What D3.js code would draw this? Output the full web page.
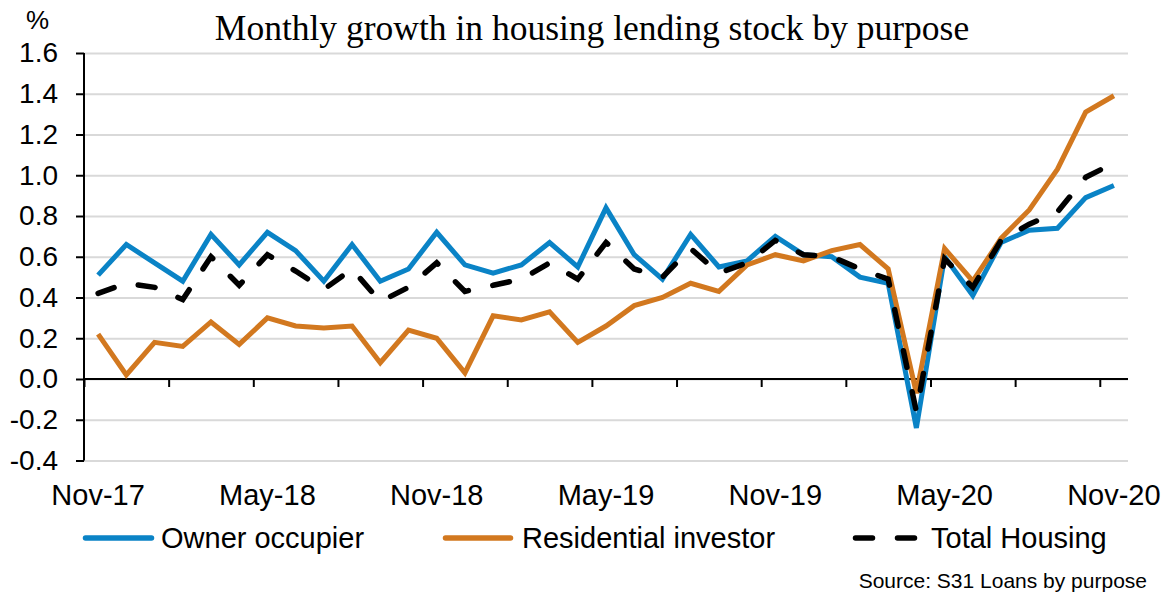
<!DOCTYPE html>
<html>
<head>
<meta charset="utf-8">
<script src="https://cdn.jsdelivr.net/npm/d3@7"></script>
<style>
  body { margin: 0; background: #fff; }
  text { font-family: "Liberation Sans", Arial, sans-serif; fill: #000; }
</style>
</head>
<body>
<div id="chart"></div>
<script>
// Monthly data, Nov-17 to Nov-20
var months = ["Nov-17","Dec-17","Jan-18","Feb-18","Mar-18","Apr-18","May-18","Jun-18","Jul-18","Aug-18","Sep-18","Oct-18",
              "Nov-18","Dec-18","Jan-19","Feb-19","Mar-19","Apr-19","May-19","Jun-19","Jul-19","Aug-19","Sep-19","Oct-19",
              "Nov-19","Dec-19","Jan-20","Feb-20","Mar-20","Apr-20","May-20","Jun-20","Jul-20","Aug-20","Sep-20","Oct-20","Nov-20"];

var ownerOccupier = [0.51, 0.66, 0.57, 0.48, 0.71, 0.56, 0.72, 0.63, 0.48, 0.66, 0.48, 0.54,
                     0.72, 0.56, 0.52, 0.56, 0.67, 0.55, 0.84, 0.61, 0.49, 0.71, 0.55, 0.58,
                     0.70, 0.61, 0.60, 0.50, 0.47, -0.24, 0.60, 0.41, 0.67, 0.73, 0.74, 0.89, 0.95];

var residentialInvestor = [0.22, 0.02, 0.18, 0.16, 0.28, 0.17, 0.30, 0.26, 0.25, 0.26, 0.08, 0.24,
                           0.20, 0.03, 0.31, 0.29, 0.33, 0.18, 0.26, 0.36, 0.40, 0.47, 0.43, 0.56,
                           0.61, 0.58, 0.63, 0.66, 0.54, -0.07, 0.64, 0.48, 0.69, 0.83, 1.03, 1.31, 1.39];

var totalHousing = [0.42, 0.47, 0.45, 0.39, 0.60, 0.46, 0.61, 0.53, 0.44, 0.54, 0.38, 0.45,
                    0.57, 0.43, 0.46, 0.49, 0.57, 0.49, 0.67, 0.54, 0.50, 0.64, 0.52, 0.57,
                    0.68, 0.61, 0.60, 0.54, 0.49, -0.16, 0.59, 0.45, 0.68, 0.76, 0.82, 0.99, 1.06];

var yTicks = [-0.4, -0.2, 0.0, 0.2, 0.4, 0.6, 0.8, 1.0, 1.2, 1.4, 1.6];
var xLabels = ["Nov-17", "May-18", "Nov-18", "May-19", "Nov-19", "May-20", "Nov-20"];

var series = [
  {name: "Owner occupier", values: ownerOccupier, color: "#0a83c6", dash: null},
  {name: "Residential investor", values: residentialInvestor, color: "#d2781f", dash: null},
  {name: "Total Housing", values: totalHousing, color: "#000", dash: "17,25"}
];

var W = 1172, H = 597;
var plotLeft = 84, plotRight = 1128, plotTop = 53, plotBottom = 460.5;

var svg = d3.select("#chart").append("svg")
  .attr("width", W).attr("height", H);

// Scales
var x = d3.scaleBand().domain(months).range([plotLeft, plotRight]).padding(0);
var xi = d3.scaleLinear().domain([0, months.length]).range([plotLeft, plotRight]);
var y = d3.scaleLinear().domain([-0.4, 1.6]).range([plotBottom, plotTop]);

// Gridlines
svg.append("g")
  .attr("transform", "translate(" + plotLeft + ",0)")
  .call(d3.axisLeft(y).tickValues(yTicks).tickSize(-(plotRight - plotLeft)).tickFormat(""))
  .call(function(g) {
    g.select(".domain").remove();
    g.selectAll("line").attr("stroke", "#d9d9d9").attr("stroke-width", 2);
  });

// Y axis
svg.append("g")
  .attr("transform", "translate(" + plotLeft + ",0)")
  .call(d3.axisLeft(y).tickValues(yTicks).tickSize(8).tickPadding(18)
    .tickFormat(function(d) { return d.toFixed(1); }))
  .call(function(g) {
    g.select(".domain").attr("stroke", "#000").attr("stroke-width", 2)
      .attr("d", "M0," + y(-0.4) + "V" + y(1.6));
    g.selectAll("line").attr("stroke", "#000").attr("stroke-width", 2);
    g.selectAll("text").style("font-size", "28px")
      .style("font-family", "'Liberation Sans', Arial, sans-serif").attr("fill", "#000");
  });

// X axis line at zero with ticks every 3 months
svg.append("g")
  .attr("transform", "translate(0," + y(0) + ")")
  .call(d3.axisBottom(xi).tickValues(d3.range(0, months.length, 3)).tickSize(8).tickFormat(""))
  .call(function(g) {
    g.select(".domain").attr("stroke", "#000").attr("stroke-width", 2)
      .attr("d", "M" + plotLeft + ",0H" + plotRight);
    g.selectAll("line").attr("stroke", "#000").attr("stroke-width", 2);
  });

// X labels below plot
svg.append("g")
  .attr("transform", "translate(0," + plotBottom + ")")
  .call(d3.axisBottom(x).tickValues(xLabels).tickSize(0).tickPadding(24))
  .call(function(g) {
    g.select(".domain").remove();
    g.selectAll("text").style("font-size", "29px")
      .style("font-family", "'Liberation Sans', Arial, sans-serif").attr("fill", "#000");
  });

// Lines
var line = d3.line()
  .x(function(d, i) { return x(months[i]) + x.bandwidth() / 2; })
  .y(function(d) { return y(d); });

series.forEach(function(s) {
  svg.append("path")
    .datum(s.values)
    .attr("fill", "none")
    .attr("stroke", s.color)
    .attr("stroke-width", s.dash ? 5.5 : 5)
    .attr("stroke-linejoin", "miter")
    .attr("stroke-linecap", s.dash ? "round" : "butt")
    .attr("stroke-dasharray", s.dash)
    .attr("d", line);
});

// Title and unit
svg.append("text")
  .attr("x", 592).attr("y", 40)
  .attr("text-anchor", "middle")
  .style("font-family", "'Liberation Serif', 'DejaVu Serif', serif")
  .style("font-size", "35.5px")
  .text("Monthly growth in housing lending stock by purpose");

svg.append("text")
  .attr("x", 26).attr("y", 29)
  .style("font-size", "26px")
  .text("%");

// Legend
var legendPos = [
  {x1: 85.5, x2: 151.5, tx: 161},
  {x1: 445.5, x2: 510.5, tx: 522},
  {x1: 855.5, x2: 914.5, tx: 931}
];
var legend = svg.append("g");
series.forEach(function(s, i) {
  var p = legendPos[i];
  legend.append("line")
    .attr("x1", p.x1).attr("x2", p.x2)
    .attr("y1", 538).attr("y2", 538)
    .attr("stroke", s.color)
    .attr("stroke-width", 5.5)
    .attr("stroke-linecap", "round")
    .attr("stroke-dasharray", s.dash);
  legend.append("text")
    .attr("x", p.tx).attr("y", 548)
    .style("font-size", "29px")
    .text(s.name);
});

// Source
svg.append("text")
  .attr("x", 1147).attr("y", 588)
  .attr("text-anchor", "end")
  .style("font-size", "21px")
  .text("Source: S31 Loans by purpose");
</script>
</body>
</html>
